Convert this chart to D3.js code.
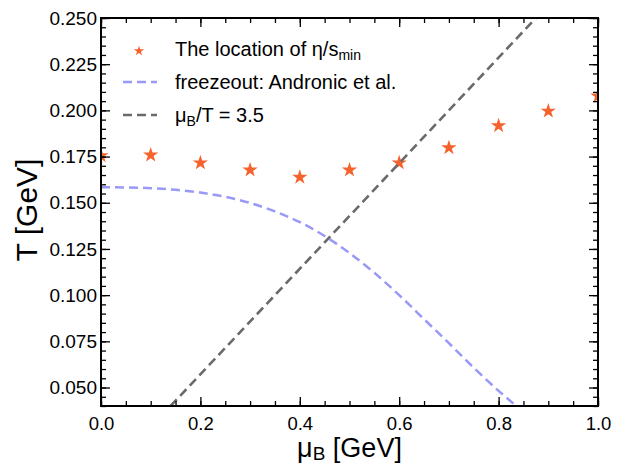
<!DOCTYPE html>
<html>
<head>
<meta charset="utf-8">
<script src="https://cdn.jsdelivr.net/npm/d3@7"></script>
<style>
  body { margin: 0; background: #fff; }
  svg text { font-family: "Liberation Sans", Arial, Helvetica, sans-serif; fill: #000; }
</style>
</head>
<body>
<svg id="chart" width="620" height="464"></svg>
<script>
// ---- data ----
const starMu = [0.0, 0.1, 0.2, 0.3, 0.4, 0.5, 0.6, 0.7, 0.8, 0.9, 1.0];
const starT  = [0.1755, 0.1758, 0.1716, 0.1677, 0.1638, 0.1677, 0.1716, 0.1798, 0.1917, 0.1996, 0.2078];

const freezeMu = [0.0, 0.05, 0.1, 0.15, 0.2, 0.25, 0.3, 0.35, 0.4, 0.45, 0.5, 0.55, 0.6, 0.65, 0.7, 0.75, 0.8, 0.85];
const freezeT  = [0.1584, 0.1583, 0.1579, 0.1570, 0.1555, 0.1532, 0.1499, 0.1453, 0.1395, 0.1320, 0.1228, 0.1121, 0.1000, 0.0870, 0.0740, 0.0607, 0.0482, 0.0368];

const ratioMu = [0.14, 0.875];
const ratioT  = [0.04, 0.25];

const xTicks = [0.0, 0.2, 0.4, 0.6, 0.8, 1.0];
const yTicks = [0.050, 0.075, 0.100, 0.125, 0.150, 0.175, 0.200, 0.225, 0.250];

// ---- layout ----
const svg = d3.select("#chart");
const L = 101, R = 598, T = 18, B = 406;
const x = d3.scaleLinear().domain([0, 1]).range([L, R]);
const y = d3.scaleLinear().domain([0.04, 0.25]).range([B, T]);

const starColor = "#f5622d";
const freezeColor = "#9999f8";
const ratioColor = "#6a6a6a";

svg.append("defs").append("clipPath").attr("id", "clip")
  .append("rect").attr("x", L).attr("y", T).attr("width", R - L).attr("height", B - T);

const plot = svg.append("g").attr("clip-path", "url(#clip)");

// stars
const star = d3.symbol().type(d3.symbolStar).size(72);
plot.selectAll("path.star").data(starMu).join("path")
  .attr("class", "star")
  .attr("transform", (d, i) => `translate(${x(d)},${y(starT[i])})`)
  .attr("d", star)
  .attr("fill", starColor);

// freezeout curve
const line = d3.line().x(d => x(d[0])).y(d => y(d[1])).curve(d3.curveMonotoneX);
plot.append("path")
  .datum(freezeMu.map((m, i) => [m, freezeT[i]]))
  .attr("d", line)
  .attr("fill", "none").attr("stroke", freezeColor)
  .attr("stroke-width", 2.5).attr("stroke-dasharray", "9,5");

// ratio line
plot.append("path")
  .datum(ratioMu.map((m, i) => [m, ratioT[i]]))
  .attr("d", d3.line().x(d => x(d[0])).y(d => y(d[1])))
  .attr("fill", "none").attr("stroke", ratioColor)
  .attr("stroke-width", 2.6).attr("stroke-dasharray", "9,5");

// ---- axes ----
const xMinor = d3.range(0, 1.0001, 0.05);
const yMinor = d3.range(0.04, 0.25001, 0.005);

function ax(gen, tr) {
  return svg.append("g").attr("transform", tr).call(gen)
    .call(g => g.select(".domain").remove())
    .call(g => g.selectAll("line").attr("stroke", "#000").attr("stroke-width", 1.3));
}
// minor ticks (inward)
ax(d3.axisBottom(x).tickValues(xMinor).tickSize(-5).tickFormat(""), `translate(0,${B})`);
ax(d3.axisTop(x).tickValues(xMinor).tickSize(-5).tickFormat(""), `translate(0,${T})`);
ax(d3.axisLeft(y).tickValues(yMinor).tickSize(-5).tickFormat(""), `translate(${L},0)`);
ax(d3.axisRight(y).tickValues(yMinor).tickSize(-5).tickFormat(""), `translate(${R},0)`);
// major ticks
const xb = ax(d3.axisBottom(x).tickValues(xTicks).tickSize(-9).tickPadding(11).tickFormat(d3.format(".1f")), `translate(0,${B})`);
ax(d3.axisTop(x).tickValues(xTicks).tickSize(-9).tickFormat(""), `translate(0,${T})`);
const yl = ax(d3.axisLeft(y).tickValues(yTicks).tickSize(-9).tickPadding(4).tickFormat(d3.format(".3f")), `translate(${L},0)`);
ax(d3.axisRight(y).tickValues(yTicks).tickSize(-9).tickFormat(""), `translate(${R},0)`);

xb.selectAll("text").attr("font-size", 18.5).attr("fill", "#000")
  .attr("font-family", "Liberation Sans, Arial, sans-serif");
yl.selectAll("text").attr("font-size", 19).attr("fill", "#000")
  .attr("font-family", "Liberation Sans, Arial, sans-serif");

// frame
svg.append("rect").attr("x", L).attr("y", T).attr("width", R - L).attr("height", B - T)
  .attr("fill", "none").attr("stroke", "#000").attr("stroke-width", 2);

// axis titles
const xt = svg.append("text").attr("x", (L + R) / 2).attr("y", 457)
  .attr("text-anchor", "middle").attr("font-size", 27);
xt.append("tspan").text("μ");
xt.append("tspan").attr("font-size", 19).attr("dy", 3).text("B");
xt.append("tspan").attr("dy", -3).text(" [GeV]");

svg.append("text").attr("transform", `translate(37,210) rotate(-90)`)
  .attr("text-anchor", "middle").attr("font-size", 30).text("T [GeV]");

// ---- legend ----
const lg = svg.append("g");
const rows = [56, 89, 122];
lg.append("path").attr("transform", `translate(139,${rows[0] - 5})`)
  .attr("d", d3.symbol().type(d3.symbolStar).size(32)).attr("fill", starColor);
lg.append("line").attr("x1", 123).attr("x2", 157).attr("y1", rows[1] - 7).attr("y2", rows[1] - 7)
  .attr("stroke", freezeColor).attr("stroke-width", 2.5).attr("stroke-dasharray", "9,5");
lg.append("line").attr("x1", 123).attr("x2", 157).attr("y1", rows[2] - 7).attr("y2", rows[2] - 7)
  .attr("stroke", ratioColor).attr("stroke-width", 2.6).attr("stroke-dasharray", "9,5");

const t1 = lg.append("text").attr("x", 175).attr("y", rows[0]).attr("font-size", 20);
t1.append("tspan").text("The location of η/s");
t1.append("tspan").attr("font-size", 14).attr("dy", 4).text("min");

lg.append("text").attr("x", 175).attr("y", rows[1]).attr("font-size", 20)
  .text("freezeout: Andronic et al.");

const t3 = lg.append("text").attr("x", 175).attr("y", rows[2]).attr("font-size", 20);
t3.append("tspan").text("μ");
t3.append("tspan").attr("font-size", 14).attr("dy", 4).text("B");
t3.append("tspan").attr("dy", -4).text("/T = 3.5");
</script>
</body>
</html>
